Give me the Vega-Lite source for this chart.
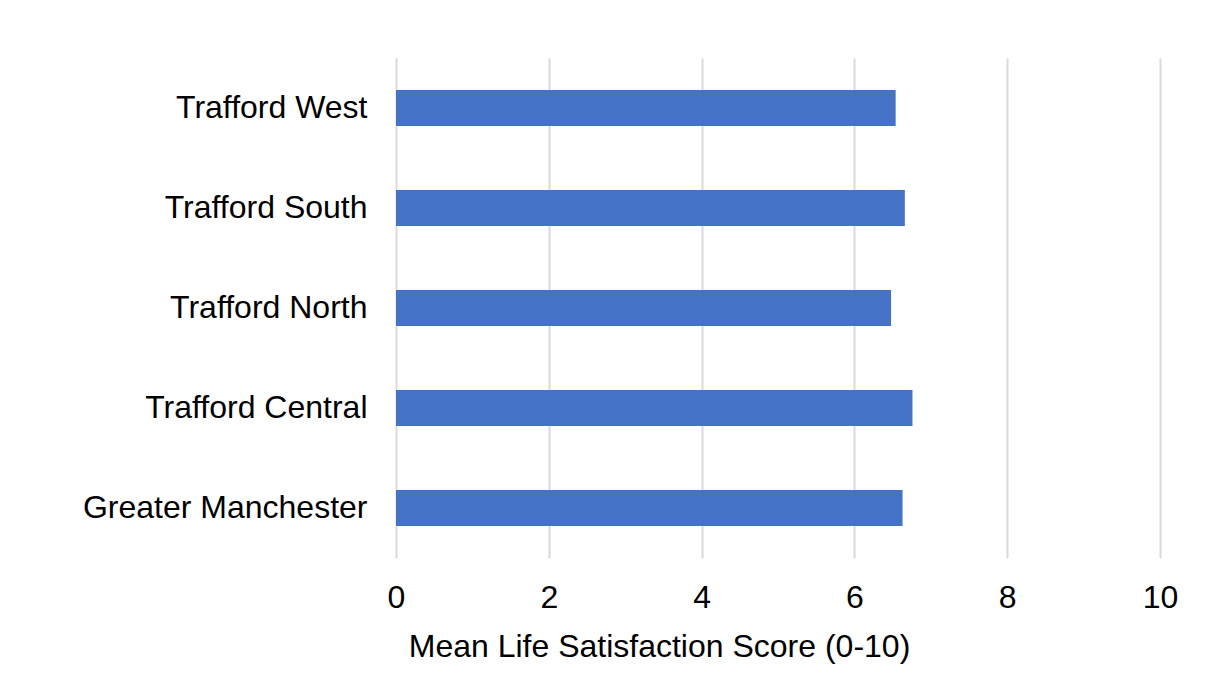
{
  "$schema": "https://vega.github.io/schema/vega-lite/v6.json",
  "autosize": {"type": "none"},
  "width": 764,
  "height": 500,
  "padding": {"left": 396, "top": 58, "right": 45, "bottom": 126},
  "background": "#ffffff",
  "config": {
    "view": {"stroke": null},
    "font": "Liberation Sans"
  },
  "data": {
    "values": [
      {"area": "Trafford West", "score": 6.54},
      {"area": "Trafford South", "score": 6.66},
      {"area": "Trafford North", "score": 6.48},
      {"area": "Trafford Central", "score": 6.76},
      {"area": "Greater Manchester", "score": 6.63}
    ]
  },
  "mark": {"type": "bar", "color": "#4472C4"},
  "encoding": {
    "y": {
      "field": "area",
      "type": "nominal",
      "sort": null,
      "scale": {"paddingInner": 0.64, "paddingOuter": 0.32},
      "axis": {
        "title": null,
        "domain": false,
        "ticks": false,
        "grid": false,
        "labelFont": "Liberation Sans",
        "labelFontSize": 32,
        "labelColor": "#000000",
        "labelPadding": 29,
        "labelLimit": 400
      }
    },
    "x": {
      "field": "score",
      "type": "quantitative",
      "scale": {"domain": [0, 10], "nice": false},
      "axis": {
        "title": "Mean Life Satisfaction Score (0-10)",
        "values": [0, 2, 4, 6, 8, 10],
        "domain": false,
        "ticks": false,
        "grid": true,
        "gridColor": "#d9d9d9",
        "gridWidth": 2,
        "labelFont": "Liberation Sans",
        "labelFontSize": 32,
        "labelColor": "#000000",
        "labelPadding": 24,
        "labelFlush": false,
        "titleFont": "Liberation Sans",
        "titleFontSize": 32,
        "titleFontWeight": "normal",
        "titleColor": "#000000",
        "titleAlign": "center",
        "titleAnchor": null,
        "titleX": 263,
        "titleY": 98,
        "titleBaseline": "alphabetic"
      }
    }
  }
}
